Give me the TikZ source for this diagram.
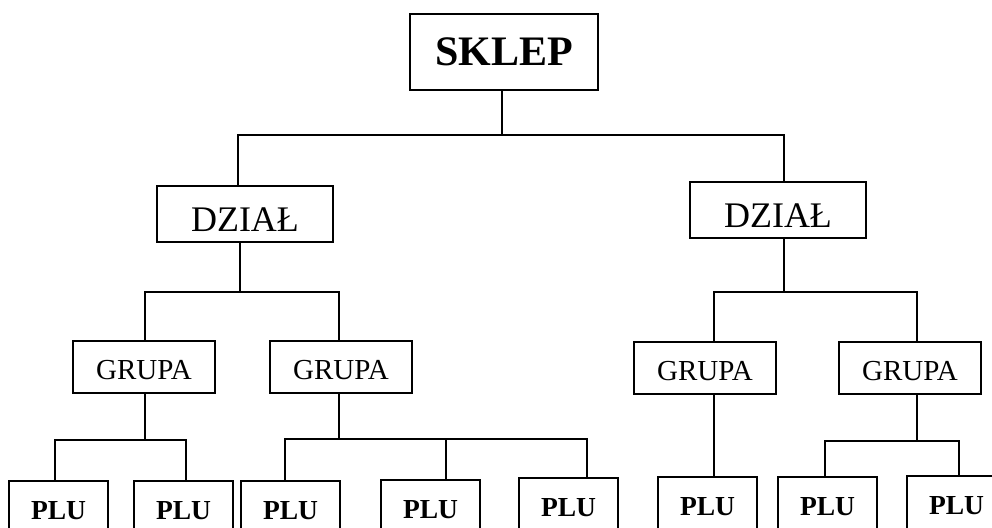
\documentclass[tikz,border=0pt]{standalone}
\usepackage{fontspec}
\setmainfont{Liberation Serif}
\begin{document}
\begin{tikzpicture}[x=1pt,y=-1pt,
    box/.style={draw,line width=1.9pt,inner sep=0pt,text depth=0pt},
    skbox/.style={box,minimum width=188pt,minimum height=76pt,text height=26pt,
      font=\fontsize{42}{48}\selectfont\bfseries},
    dzbox/.style={box,minimum width=176pt,minimum height=56pt,text height=34pt,
      font=\fontsize{36}{42}\selectfont},
    grbox/.style={box,minimum width=142pt,minimum height=52pt,text height=24pt,
      font=\fontsize{29}{34}\selectfont},
    plubox/.style={box,minimum width=99pt,minimum height=60pt,text height=18pt,
      anchor=north,font=\fontsize{27.5}{32}\selectfont\bfseries},
    link/.style={line width=1.6pt}]
    \useasboundingbox (0,0) rectangle (992,527);
    \clip (0,0) rectangle (992,527);
    % top level
    \node[skbox] (sklep) at (504,52) {SKLEP};
    % departments
    \node[dzbox] (dzl) at (245,214) {DZIAŁ};
    \node[dzbox] (dzr) at (778,210) {DZIAŁ};
    % groups
    \node[grbox] (gr1) at (144,367) {GRUPA};
    \node[grbox] (gr2) at (341,367) {GRUPA};
    \node[grbox] (gr3) at (705,368) {GRUPA};
    \node[grbox] (gr4) at (910,368) {GRUPA};
    % PLU boxes, cut by the lower edge
    \foreach \n/\x/\y in {1/58.5/480,2/183.5/480,3/290.5/480,4/430.5/479,
      5/568.5/477,6/707.5/476,7/827.5/476,8/956.5/475}{
      \node[plubox] (plu\n) at (\x,\y) {PLU};
    }
    % connectors
    \draw[link] ([xshift=-2pt]sklep.south) -- ++(0,44) -| ([xshift=-7pt]dzl.north);
    \draw[link] ([xshift=-2pt]sklep.south) -- ++(0,44) -| ([xshift=6pt]dzr.north);
    \draw[link] ([xshift=-5pt]dzl.south) -- ++(0,49) -| ([xshift=1pt]gr1.north);
    \draw[link] ([xshift=-5pt]dzl.south) -- ++(0,49) -| ([xshift=-2pt]gr2.north);
    \draw[link] ([xshift=6pt]dzr.south) -- ++(0,53) -| ([xshift=9pt]gr3.north);
    \draw[link] ([xshift=6pt]dzr.south) -- ++(0,53) -| ([xshift=7pt]gr4.north);
    \draw[link] ([xshift=1pt]gr1.south) -- ++(0,46) -| ([xshift=-3.5pt]plu1.north);
    \draw[link] ([xshift=1pt]gr1.south) -- ++(0,46) -| ([xshift=2.5pt]plu2.north);
    \foreach \n/\s in {3/-5.5,4/15.5,5/18.5}{
      \draw[link] ([xshift=-2pt]gr2.south) -- ++(0,45) -| ([xshift=\s pt]plu\n.north);
    }
    \draw[link] ([xshift=9pt]gr3.south) -- ([xshift=6.5pt]plu6.north);
    \draw[link] ([xshift=7pt]gr4.south) -- ++(0,46) -| ([xshift=-2.5pt]plu7.north);
    \draw[link] ([xshift=7pt]gr4.south) -- ++(0,46) -| ([xshift=2.5pt]plu8.north);
\end{tikzpicture}
\end{document}
